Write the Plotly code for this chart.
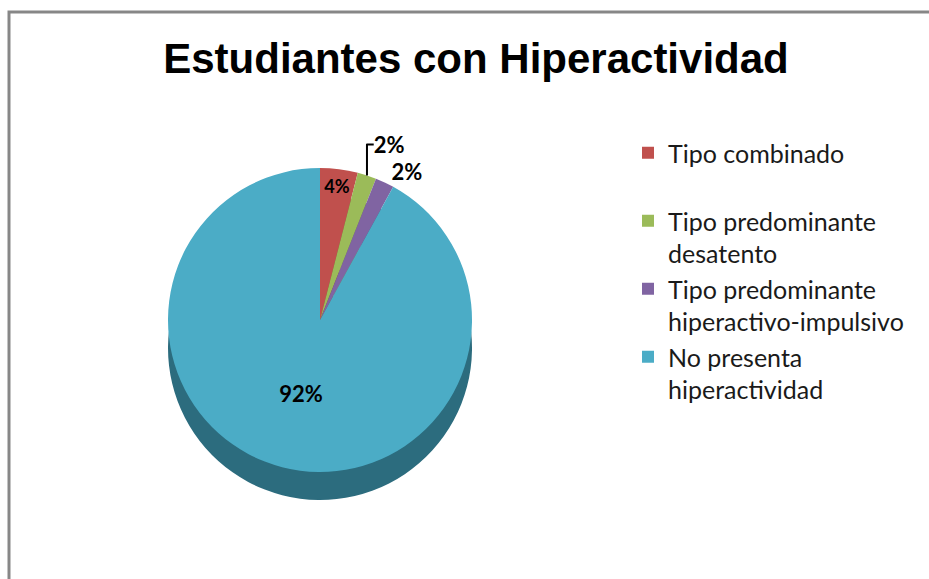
import plotly.graph_objects as go

categories = [
    "Tipo combinado<br> ",
    "Tipo predominante<br>desatento",
    "Tipo predominante<br>hiperactivo-impulsivo",
    "No presenta<br>hiperactividad",
]
values = [4, 2, 2, 92]
colors = ["#C0504D", "#9BBB59", "#8064A2", "#4BACC6"]
side_colors = ["#8a3937", "#6f8740", "#5b4774", "#2c6c7e"]
text_positions = ["inside", "outside", "outside", "inside"]

W, H = 929, 579
cx, cy, r = 320, 320, 152
depth = 28

def dom(cx, cy, r):
    return dict(x=[(cx - r) / W, (cx + r) / W], y=[1 - (cy + r) / H, 1 - (cy - r) / H])

fig = go.Figure()
# side / thickness (3D effect)
fig.add_trace(go.Pie(
    labels=categories, values=values, sort=False, direction="clockwise", rotation=0,
    marker=dict(colors=side_colors, line=dict(width=0)),
    textinfo="none", hoverinfo="skip", showlegend=False,
    domain=dom(cx, cy + depth, r),
))
fig.add_trace(go.Pie(
    labels=categories, values=values, sort=False, direction="clockwise", rotation=0,
    marker=dict(colors=colors, line=dict(width=0)),
    texttemplate="%{percent:.0%}", textposition=text_positions,
    insidetextorientation="horizontal",
    textfont=dict(family="Lato", size=22, color="black", weight="bold"),
    outsidetextfont=dict(family="Lato", size=22, color="black", weight="bold"),
    domain=dom(cx, cy, r),
))

fig.update_layout(
    width=W, height=H,
    margin=dict(l=0, r=0, t=0, b=0),
    paper_bgcolor="white",
    title=dict(text="<b>Estudiantes con Hiperactividad</b>", x=476 / W, xanchor="center",
               y=1 - 58 / H, yanchor="middle",
               font=dict(family="Liberation Sans", size=42, color="black")),
    legend=dict(x=628 / W, y=1 - 130 / H, xanchor="left", yanchor="top", valign="top",
                font=dict(family="Lato", size=25, color="#1a1a1a"),
                itemwidth=30, tracegroupgap=0),
    shapes=[dict(type="rect", xref="paper", yref="paper",
                 x0=9 / W, x1=1.05, y0=-0.05, y1=1 - 12 / H,
                 line=dict(color="#878787", width=3), fillcolor="rgba(0,0,0,0)")],
)

fig.write_html("out.html", config={"displayModeBar": False},
               post_script="document.body.style.margin='0';")
